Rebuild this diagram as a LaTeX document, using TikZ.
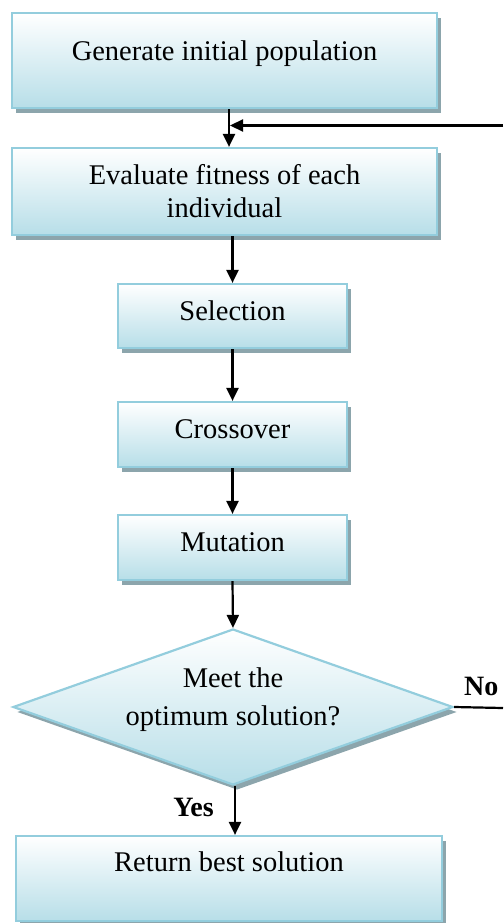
\documentclass[tikz,border=0pt]{standalone}
\usepackage{fontspec}
\setmainfont{Liberation Serif}
\usetikzlibrary{arrows.meta,shapes.geometric,shadows,calc}
\definecolor{bordc}{RGB}{147,205,221}
\definecolor{fillb}{RGB}{183,222,232}
\definecolor{shadc}{RGB}{140,165,172}
\tikzset{
  shaded/.style={draw=bordc, line width=2.2pt, top color=white, bottom color=fillb,
    drop shadow={shadow xshift=4pt, shadow yshift=-5pt, fill=shadc, opacity=1},
    inner sep=0pt},
  flowbox/.style={rectangle, shaded, font=\fontsize{28.5}{32.5}\selectfont},
  decision/.style={diamond, aspect=2.82, shaded, font=\fontsize{28.5}{38}\selectfont},
  arr/.style={line width=2.2pt, -{Triangle[length=13pt,width=12pt]}},
  plainline/.style={line width=2.2pt},
  lbl/.style={font=\fontsize{28}{32}\selectfont\bfseries, inner sep=0pt},
}
\begin{document}
\begin{tikzpicture}[x=1pt,y=-1pt]
\useasboundingbox (0,0) rectangle (503,923);

\node[flowbox, minimum width=425pt, minimum height=95pt, text height=20pt, text depth=20pt]
  (g) at (224.5,60.5) {Generate initial population};
\node[flowbox, minimum width=425pt, minimum height=87pt, text height=51pt, text depth=0pt]
  (e) at (224.5,191.5) {\begin{tabular}[b]{@{}c@{}}Evaluate fitness of each\\individual\end{tabular}};
\node[flowbox, minimum width=229pt, minimum height=64pt, text height=20pt, text depth=12pt]
  (s) at (232.5,316) {Selection};
\node[flowbox, minimum width=229pt, minimum height=65pt, text height=20pt, text depth=12pt]
  (c) at (232.5,434.5) {Crossover};
\node[flowbox, minimum width=229pt, minimum height=65pt, text height=20pt, text depth=12pt]
  (m) at (232.5,547.5) {Mutation};
\node[decision, minimum width=440pt, minimum height=156pt, text height=45pt, text depth=8pt]
  (d) at (233,707) {\begin{tabular}[b]{@{}c@{}}Meet the\\optimum solution?\end{tabular}};
\node[flowbox, minimum width=426pt, minimum height=85pt, text height=20pt, text depth=34pt]
  (r) at (229,878.5) {Return best solution};

\node[lbl, anchor=base east] (yes) at (214,816.5) {Yes};
\node[lbl, anchor=base west] (no) at (464,695.5) {No};

\coordinate (noend) at (503,708);
\coordinate (loopin) at (503,125.5);
\coordinate (loopjoin) at (230,125.5);

\draw[arr] (g.south -| r.north) -- (e.north -| r.north);
\draw[arr] (e.south -| s.north) -- (s.north);
\draw[arr] (s.south) -- (c.north);
\draw[arr] (c.south) -- (m.north);
\draw[arr] (m.south) -- (d.north);
\draw[arr] ($(d.south)+(2,0)$) -- ($(d.south |- r.north)+(2,0)$);
\draw[plainline] (d.east) -- (noend);
\draw[arr] (loopin) -- (loopjoin);
\end{tikzpicture}
\end{document}
